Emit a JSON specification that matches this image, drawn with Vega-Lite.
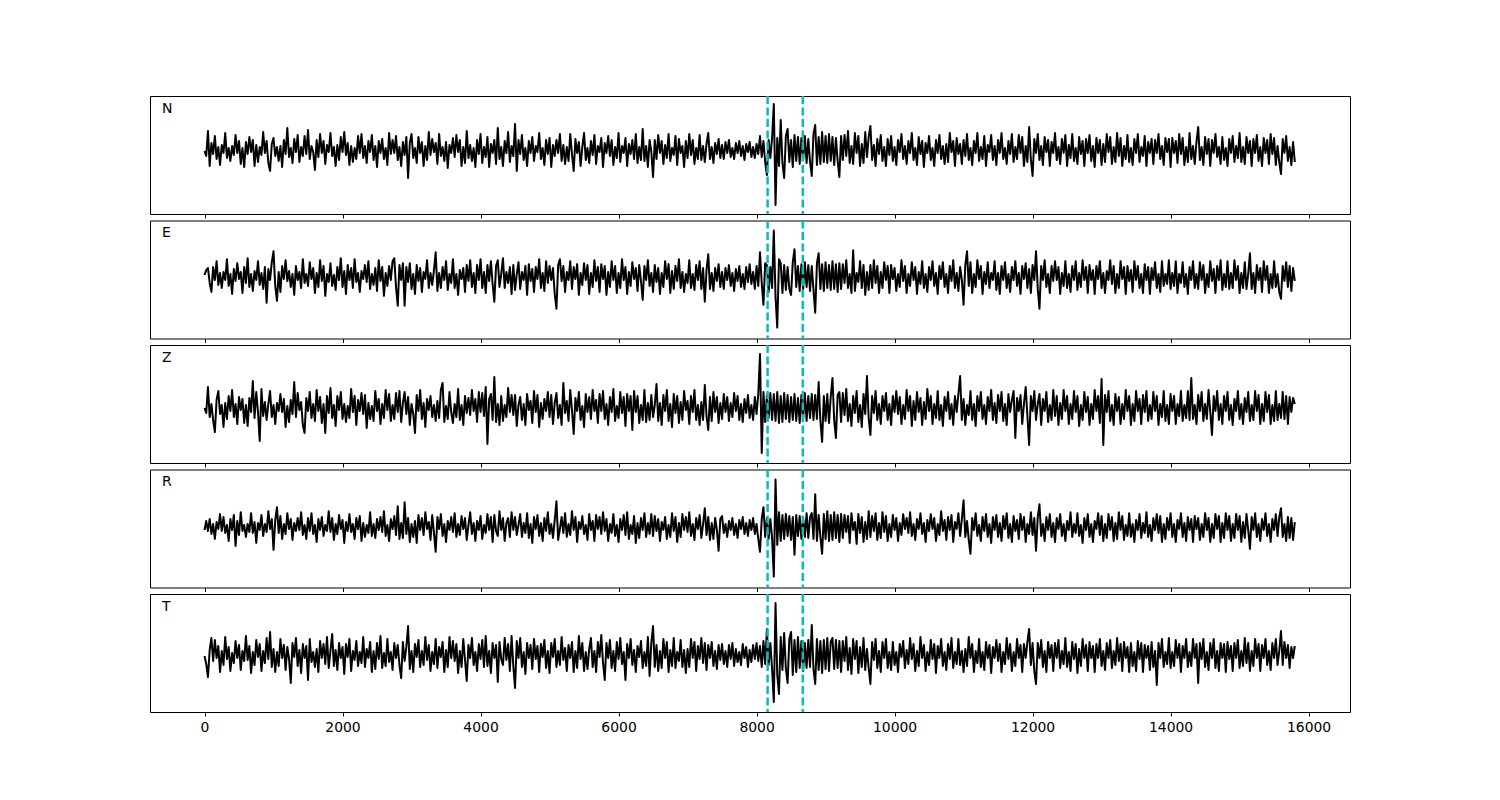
{
"$schema": "https://vega.github.io/schema/vega-lite/v6.json",
"background": "white",
"padding": {"left": 149, "top": 94, "right": 150, "bottom": 10},
"bounds": "flush",
"spacing": 6.5,
"config": {
  "view": {"stroke": "black", "strokeWidth": 1},
  "font": "DejaVu Sans",
  "axis": {"domain": false, "grid": false, "ticks": true, "tickSize": 4, "tickColor": "black", "tickWidth": 1, "labelFont": "DejaVu Sans", "labelFontSize": 13.9, "labelColor": "black", "labelPadding": 4, "title": null}
},
"data": {"values": [
{"t":0,"N":-1,"E":2,"Z":0,"R":-3,"T":-1},
{"t":25,"N":-6,"E":7,"Z":-5,"R":6,"T":-9},
{"t":50,"N":19,"E":9,"Z":21,"R":-4,"T":-22},
{"t":75,"N":-16,"E":-6,"Z":-9,"R":8,"T":5},
{"t":100,"N":7,"E":-15,"Z":4,"R":-7,"T":17},
{"t":125,"N":-4,"E":10,"Z":-12,"R":3,"T":-6},
{"t":150,"N":14,"E":-3,"Z":-24,"R":-12,"T":15},
{"t":175,"N":-9,"E":16,"Z":8,"R":5,"T":-3},
{"t":200,"N":3,"E":-8,"Z":17,"R":-2,"T":9},
{"t":225,"N":-15,"E":4,"Z":-6,"R":13,"T":-17},
{"t":250,"N":5,"E":-11,"Z":3,"R":-4,"T":4},
{"t":275,"N":-3,"E":5,"Z":-19,"R":10,"T":-10},
{"t":300,"N":17,"E":-3,"Z":5,"R":-6,"T":18},
{"t":325,"N":-8,"E":18,"Z":-11,"R":2,"T":-4},
{"t":350,"N":2,"E":-9,"Z":12,"R":-14,"T":8},
{"t":375,"N":-11,"E":3,"Z":-3,"R":8,"T":-16},
{"t":400,"N":4,"E":-17,"Z":18,"R":-3,"T":2},
{"t":425,"N":-5,"E":8,"Z":-9,"R":12,"T":-8},
{"t":450,"N":15,"E":-4,"Z":4,"R":-19,"T":14},
{"t":475,"N":-3,"E":14,"Z":-16,"R":6,"T":-3},
{"t":500,"N":9,"E":-2,"Z":11,"R":-8,"T":10},
{"t":525,"N":-14,"E":5,"Z":-2,"R":15,"T":-15},
{"t":550,"N":2,"E":-16,"Z":9,"R":-4,"T":4},
{"t":575,"N":-17,"E":10,"Z":-15,"R":2,"T":-6},
{"t":600,"N":8,"E":-6,"Z":3,"R":-10,"T":19},
{"t":625,"N":-4,"E":19,"Z":-18,"R":3,"T":-5},
{"t":650,"N":13,"E":-10,"Z":10,"R":-5,"T":9},
{"t":675,"N":-2,"E":3,"Z":-4,"R":14,"T":-18},
{"t":700,"N":10,"E":-14,"Z":27,"R":-6,"T":3},
{"t":725,"N":-16,"E":6,"Z":-10,"R":5,"T":-10},
{"t":750,"N":5,"E":-3,"Z":16,"R":-16,"T":15},
{"t":775,"N":-12,"E":16,"Z":-4,"R":4,"T":-2},
{"t":800,"N":3,"E":-8,"Z":-33,"R":-3,"T":11},
{"t":825,"N":-5,"E":4,"Z":19,"R":12,"T":-16},
{"t":850,"N":18,"E":-12,"Z":-8,"R":-9,"T":4},
{"t":875,"N":-3,"E":10,"Z":6,"R":3,"T":-8},
{"t":900,"N":9,"E":-26,"Z":-12,"R":-5,"T":17},
{"t":925,"N":-13,"E":8,"Z":4,"R":16,"T":-4},
{"t":950,"N":-21,"E":-3,"Z":17,"R":-2,"T":23},
{"t":975,"N":6,"E":15,"Z":-9,"R":8,"T":-12},
{"t":1000,"N":12,"E":26,"Z":3,"R":-23,"T":6},
{"t":1025,"N":-6,"E":-9,"Z":-16,"R":7,"T":-17},
{"t":1050,"N":3,"E":-24,"Z":5,"R":20,"T":3},
{"t":1075,"N":-11,"E":5,"Z":-3,"R":-6,"T":-11},
{"t":1100,"N":4,"E":-15,"Z":14,"R":11,"T":16},
{"t":1125,"N":-17,"E":11,"Z":-4,"R":-12,"T":-3},
{"t":1150,"N":10,"E":-2,"Z":9,"R":3,"T":10},
{"t":1175,"N":-4,"E":17,"Z":-19,"R":-7,"T":-15},
{"t":1200,"N":22,"E":-4,"Z":2,"R":14,"T":8},
{"t":1225,"N":-7,"E":6,"Z":-14,"R":-2,"T":-4},
{"t":1250,"N":2,"E":-10,"Z":8,"R":8,"T":-28},
{"t":1275,"N":-13,"E":3,"Z":-6,"R":-13,"T":12},
{"t":1300,"N":11,"E":-18,"Z":26,"R":4,"T":-2},
{"t":1325,"N":-2,"E":11,"Z":-9,"R":-4,"T":17},
{"t":1350,"N":15,"E":-3,"Z":15,"R":9,"T":-11},
{"t":1375,"N":-12,"E":5,"Z":-2,"R":-3,"T":5},
{"t":1400,"N":3,"E":-11,"Z":6,"R":15,"T":-18},
{"t":1425,"N":-6,"E":18,"Z":-17,"R":-8,"T":11},
{"t":1450,"N":14,"E":-6,"Z":-25,"R":2,"T":-3},
{"t":1475,"N":-4,"E":3,"Z":10,"R":-12,"T":9},
{"t":1500,"N":20,"E":-9,"Z":-3,"R":9,"T":-25},
{"t":1525,"N":-9,"E":15,"Z":16,"R":-4,"T":16},
{"t":1550,"N":4,"E":-2,"Z":-10,"R":14,"T":-7},
{"t":1575,"N":-2,"E":9,"Z":4,"R":-7,"T":3},
{"t":1600,"N":-20,"E":-16,"Z":-13,"R":2,"T":-12},
{"t":1625,"N":10,"E":4,"Z":18,"R":-15,"T":6},
{"t":1650,"N":-7,"E":-10,"Z":-3,"R":8,"T":-17},
{"t":1675,"N":16,"E":17,"Z":11,"R":-3,"T":14},
{"t":1700,"N":-3,"E":-4,"Z":-15,"R":10,"T":-3},
{"t":1725,"N":9,"E":11,"Z":4,"R":-9,"T":11},
{"t":1750,"N":-14,"E":-19,"Z":-25,"R":2,"T":-9},
{"t":1775,"N":5,"E":3,"Z":12,"R":-4,"T":18},
{"t":1800,"N":-2,"E":-5,"Z":-5,"R":16,"T":-13},
{"t":1825,"N":17,"E":14,"Z":20,"R":-5,"T":4},
{"t":1850,"N":-6,"E":-9,"Z":-10,"R":9,"T":21},
{"t":1875,"N":3,"E":2,"Z":3,"R":-13,"T":-11},
{"t":1900,"N":-16,"E":-13,"Z":-18,"R":3,"T":5},
{"t":1925,"N":5,"E":10,"Z":12,"R":-7,"T":-15},
{"t":1950,"N":-10,"E":-3,"Z":-2,"R":12,"T":12},
{"t":1975,"N":13,"E":19,"Z":16,"R":-2,"T":-3},
{"t":2000,"N":-2,"E":-10,"Z":-11,"R":7,"T":8},
{"t":2025,"N":18,"E":6,"Z":4,"R":-16,"T":-19},
{"t":2050,"N":-5,"E":-17,"Z":-14,"R":5,"T":11},
{"t":2075,"N":7,"E":12,"Z":2,"R":-4,"T":-2},
{"t":2100,"N":-15,"E":-3,"Z":-10,"R":13,"T":16},
{"t":2125,"N":4,"E":9,"Z":19,"R":-5,"T":-16},
{"t":2150,"N":-12,"E":-11,"Z":-4,"R":3,"T":4},
{"t":2175,"N":2,"E":18,"Z":12,"R":-12,"T":-5},
{"t":2200,"N":-9,"E":-5,"Z":-17,"R":9,"T":14},
{"t":2225,"N":14,"E":4,"Z":8,"R":-2,"T":-11},
{"t":2250,"N":-3,"E":-15,"Z":-3,"R":11,"T":3},
{"t":2275,"N":16,"E":6,"Z":15,"R":-14,"T":-8},
{"t":2300,"N":-8,"E":-2,"Z":-6,"R":4,"T":18},
{"t":2325,"N":4,"E":12,"Z":13,"R":-10,"T":-12},
{"t":2350,"N":-13,"E":-5,"Z":-20,"R":2,"T":6},
{"t":2375,"N":9,"E":16,"Z":5,"R":-6,"T":-3},
{"t":2400,"N":-2,"E":-12,"Z":-11,"R":15,"T":13},
{"t":2425,"N":15,"E":3,"Z":2,"R":-9,"T":-17},
{"t":2450,"N":-10,"E":-8,"Z":-13,"R":3,"T":4},
{"t":2475,"N":4,"E":9,"Z":17,"R":-11,"T":-14},
{"t":2500,"N":-17,"E":-14,"Z":-3,"R":8,"T":12},
{"t":2525,"N":9,"E":17,"Z":9,"R":-3,"T":-4},
{"t":2550,"N":-3,"E":-4,"Z":-16,"R":10,"T":19},
{"t":2575,"N":11,"E":10,"Z":4,"R":-5,"T":-13},
{"t":2600,"N":-9,"E":-19,"Z":-10,"R":16,"T":2},
{"t":2625,"N":2,"E":4,"Z":18,"R":-9,"T":-11},
{"t":2650,"N":-15,"E":-9,"Z":-2,"R":2,"T":16},
{"t":2675,"N":17,"E":11,"Z":14,"R":-14,"T":-7},
{"t":2700,"N":-4,"E":-3,"Z":-13,"R":8,"T":3},
{"t":2725,"N":10,"E":16,"Z":3,"R":-2,"T":-15},
{"t":2750,"N":-3,"E":19,"Z":-11,"R":11,"T":12},
{"t":2775,"N":14,"E":-10,"Z":15,"R":-8,"T":-3},
{"t":2800,"N":-10,"E":-29,"Z":-4,"R":21,"T":10},
{"t":2825,"N":3,"E":12,"Z":17,"R":-12,"T":-10},
{"t":2850,"N":-16,"E":-3,"Z":-14,"R":4,"T":-23},
{"t":2875,"N":8,"E":14,"Z":5,"R":-11,"T":13},
{"t":2900,"N":-5,"E":-29,"Z":16,"R":25,"T":-6},
{"t":2925,"N":13,"E":10,"Z":-6,"R":-7,"T":8},
{"t":2950,"N":-28,"E":-5,"Z":11,"R":9,"T":29},
{"t":2975,"N":7,"E":14,"Z":-17,"R":-15,"T":-14},
{"t":3000,"N":16,"E":-12,"Z":4,"R":3,"T":4},
{"t":3025,"N":-8,"E":3,"Z":-6,"R":-10,"T":-17},
{"t":3050,"N":2,"E":-17,"Z":-25,"R":6,"T":11},
{"t":3075,"N":-13,"E":12,"Z":13,"R":-16,"T":-2},
{"t":3100,"N":13,"E":-4,"Z":-3,"R":12,"T":15},
{"t":3125,"N":-3,"E":9,"Z":18,"R":-3,"T":-12},
{"t":3150,"N":8,"E":-15,"Z":-11,"R":9,"T":4},
{"t":3175,"N":-16,"E":5,"Z":5,"R":-8,"T":-10},
{"t":3200,"N":4,"E":-2,"Z":-19,"R":15,"T":18},
{"t":3225,"N":-10,"E":17,"Z":9,"R":-2,"T":-5},
{"t":3250,"N":18,"E":-11,"Z":-2,"R":5,"T":10},
{"t":3275,"N":-5,"E":4,"Z":12,"R":-13,"T":-16},
{"t":3300,"N":11,"E":-8,"Z":-9,"R":12,"T":3},
{"t":3325,"N":-2,"E":7,"Z":3,"R":-6,"T":-9},
{"t":3350,"N":7,"E":25,"Z":-13,"R":-25,"T":16},
{"t":3375,"N":-14,"E":-14,"Z":7,"R":10,"T":-13},
{"t":3400,"N":16,"E":4,"Z":-10,"R":-2,"T":8},
{"t":3425,"N":-6,"E":-11,"Z":18,"R":13,"T":-2},
{"t":3450,"N":3,"E":10,"Z":25,"R":-9,"T":13},
{"t":3475,"N":-11,"E":-3,"Z":-14,"R":3,"T":-17},
{"t":3500,"N":8,"E":16,"Z":2,"R":-15,"T":5},
{"t":3525,"N":-18,"E":-13,"Z":-11,"R":6,"T":-12},
{"t":3550,"N":5,"E":3,"Z":16,"R":-3,"T":18},
{"t":3575,"N":-3,"E":-6,"Z":-4,"R":10,"T":-3},
{"t":3600,"N":12,"E":18,"Z":-15,"R":-5,"T":14},
{"t":3625,"N":-7,"E":-11,"Z":4,"R":14,"T":-6},
{"t":3650,"N":15,"E":3,"Z":-9,"R":-10,"T":11},
{"t":3675,"N":-2,"E":-18,"Z":19,"R":3,"T":-18},
{"t":3700,"N":10,"E":7,"Z":-12,"R":-8,"T":4},
{"t":3725,"N":-16,"E":-2,"Z":3,"R":11,"T":-12},
{"t":3750,"N":3,"E":9,"Z":-17,"R":-2,"T":16},
{"t":3775,"N":-13,"E":-15,"Z":12,"R":9,"T":-5},
{"t":3800,"N":19,"E":12,"Z":-5,"R":-13,"T":-26},
{"t":3825,"N":-8,"E":-4,"Z":10,"R":2,"T":10},
{"t":3850,"N":5,"E":17,"Z":-7,"R":15,"T":-3},
{"t":3875,"N":-11,"E":-10,"Z":18,"R":-7,"T":17},
{"t":3900,"N":2,"E":4,"Z":-3,"R":4,"T":-10},
{"t":3925,"N":-17,"E":-16,"Z":9,"R":-14,"T":3},
{"t":3950,"N":10,"E":12,"Z":-14,"R":6,"T":-16},
{"t":3975,"N":-4,"E":-3,"Z":16,"R":-3,"T":11},
{"t":4000,"N":16,"E":18,"Z":-4,"R":11,"T":-4},
{"t":4025,"N":-13,"E":-11,"Z":15,"R":-12,"T":15},
{"t":4050,"N":3,"E":5,"Z":-8,"R":2,"T":-12},
{"t":4075,"N":-7,"E":-16,"Z":21,"R":-6,"T":19},
{"t":4100,"N":13,"E":12,"Z":-36,"R":13,"T":-11},
{"t":4125,"N":-17,"E":-4,"Z":9,"R":-3,"T":4},
{"t":4150,"N":6,"E":16,"Z":14,"R":10,"T":-18},
{"t":4175,"N":-3,"E":-7,"Z":-12,"R":-15,"T":12},
{"t":4200,"N":10,"E":-25,"Z":31,"R":12,"T":-3},
{"t":4225,"N":-14,"E":11,"Z":-14,"R":-4,"T":10},
{"t":4250,"N":22,"E":17,"Z":4,"R":-9,"T":-27},
{"t":4275,"N":-9,"E":-10,"Z":-17,"R":16,"T":13},
{"t":4300,"N":3,"E":3,"Z":12,"R":-3,"T":-4},
{"t":4325,"N":-16,"E":19,"Z":-13,"R":9,"T":-10},
{"t":4350,"N":9,"E":-11,"Z":3,"R":-14,"T":17},
{"t":4375,"N":-3,"E":5,"Z":-9,"R":4,"T":-5},
{"t":4400,"N":18,"E":-6,"Z":20,"R":9,"T":11},
{"t":4425,"N":-12,"E":10,"Z":-4,"R":-10,"T":-16},
{"t":4450,"N":4,"E":-17,"Z":13,"R":15,"T":19},
{"t":4475,"N":-6,"E":12,"Z":-7,"R":-3,"T":-11},
{"t":4500,"N":26,"E":-13,"Z":13,"R":10,"T":-33},
{"t":4525,"N":-21,"E":3,"Z":-18,"R":-8,"T":14},
{"t":4550,"N":10,"E":15,"Z":3,"R":2,"T":-3},
{"t":4575,"N":-4,"E":-12,"Z":11,"R":13,"T":17},
{"t":4600,"N":15,"E":5,"Z":-12,"R":-10,"T":-12},
{"t":4625,"N":-10,"E":-3,"Z":4,"R":4,"T":3},
{"t":4650,"N":2,"E":11,"Z":-17,"R":-6,"T":-19},
{"t":4675,"N":-16,"E":-18,"Z":14,"R":14,"T":12},
{"t":4700,"N":9,"E":13,"Z":-2,"R":-11,"T":-3},
{"t":4725,"N":-3,"E":-4,"Z":7,"R":3,"T":10},
{"t":4750,"N":13,"E":8,"Z":-15,"R":-16,"T":-14},
{"t":4775,"N":-11,"E":-15,"Z":17,"R":10,"T":16},
{"t":4800,"N":4,"E":10,"Z":-4,"R":-2,"T":-4},
{"t":4825,"N":-2,"E":-2,"Z":13,"R":12,"T":9},
{"t":4850,"N":17,"E":18,"Z":-19,"R":-9,"T":-17},
{"t":4875,"N":-9,"E":-11,"Z":5,"R":4,"T":11},
{"t":4900,"N":2,"E":4,"Z":-11,"R":-14,"T":-2},
{"t":4925,"N":-15,"E":-14,"Z":9,"R":9,"T":15},
{"t":4950,"N":10,"E":16,"Z":-3,"R":-4,"T":-13},
{"t":4975,"N":-4,"E":-6,"Z":16,"R":15,"T":4},
{"t":5000,"N":12,"E":11,"Z":-9,"R":-7,"T":-18},
{"t":5025,"N":-17,"E":-3,"Z":13,"R":3,"T":12},
{"t":5050,"N":5,"E":9,"Z":-16,"R":-11,"T":-2},
{"t":5075,"N":-6,"E":-17,"Z":5,"R":7,"T":16},
{"t":5100,"N":10,"E":-32,"Z":15,"R":26,"T":-12},
{"t":5125,"N":-3,"E":12,"Z":-10,"R":-13,"T":4},
{"t":5150,"N":16,"E":18,"Z":3,"R":-2,"T":-10},
{"t":5175,"N":-11,"E":-4,"Z":-17,"R":10,"T":18},
{"t":5200,"N":5,"E":11,"Z":25,"R":-6,"T":-5},
{"t":5225,"N":-14,"E":-15,"Z":-5,"R":14,"T":7},
{"t":5250,"N":3,"E":5,"Z":7,"R":-10,"T":-16},
{"t":5275,"N":-11,"E":-3,"Z":-13,"R":3,"T":10},
{"t":5300,"N":16,"E":16,"Z":18,"R":-8,"T":-3},
{"t":5325,"N":-4,"E":-12,"Z":-2,"R":16,"T":13},
{"t":5350,"N":-21,"E":10,"Z":-26,"R":-3,"T":-17},
{"t":5375,"N":11,"E":-2,"Z":10,"R":10,"T":4},
{"t":5400,"N":-3,"E":13,"Z":-3,"R":-15,"T":-13},
{"t":5425,"N":8,"E":-18,"Z":16,"R":5,"T":19},
{"t":5450,"N":-16,"E":4,"Z":-12,"R":-2,"T":-4},
{"t":5475,"N":3,"E":-8,"Z":2,"R":11,"T":12},
{"t":5500,"N":17,"E":14,"Z":-19,"R":-7,"T":-16},
{"t":5525,"N":-10,"E":-3,"Z":14,"R":2,"T":3},
{"t":5550,"N":2,"E":12,"Z":-4,"R":-13,"T":-14},
{"t":5575,"N":-13,"E":-17,"Z":11,"R":13,"T":6},
{"t":5600,"N":9,"E":4,"Z":-11,"R":-3,"T":17},
{"t":5625,"N":-5,"E":-10,"Z":18,"R":6,"T":-12},
{"t":5650,"N":15,"E":17,"Z":-3,"R":-14,"T":4},
{"t":5675,"N":-14,"E":-4,"Z":8,"R":12,"T":-17},
{"t":5700,"N":4,"E":10,"Z":-15,"R":-2,"T":13},
{"t":5725,"N":-2,"E":-15,"Z":14,"R":10,"T":-2},
{"t":5750,"N":12,"E":13,"Z":-3,"R":-7,"T":20},
{"t":5775,"N":-17,"E":-2,"Z":17,"R":15,"T":-8},
{"t":5800,"N":7,"E":11,"Z":-11,"R":-4,"T":-25},
{"t":5825,"N":-3,"E":-18,"Z":4,"R":8,"T":12},
{"t":5850,"N":14,"E":5,"Z":-17,"R":-14,"T":-3},
{"t":5875,"N":-6,"E":-10,"Z":11,"R":3,"T":15},
{"t":5900,"N":10,"E":16,"Z":-4,"R":-6,"T":-13},
{"t":5925,"N":-15,"E":-3,"Z":19,"R":13,"T":4},
{"t":5950,"N":3,"E":11,"Z":-13,"R":-9,"T":-16},
{"t":5975,"N":-8,"E":-16,"Z":2,"R":2,"T":13},
{"t":6000,"N":17,"E":4,"Z":-10,"R":-15,"T":-4},
{"t":6025,"N":-12,"E":-11,"Z":16,"R":8,"T":17},
{"t":6050,"N":4,"E":18,"Z":-5,"R":-3,"T":-9},
{"t":6075,"N":-3,"E":-3,"Z":11,"R":12,"T":3},
{"t":6100,"N":12,"E":10,"Z":-18,"R":-8,"T":-25},
{"t":6125,"N":-16,"E":-17,"Z":14,"R":15,"T":11},
{"t":6150,"N":6,"E":5,"Z":-3,"R":-12,"T":-3},
{"t":6175,"N":-4,"E":-9,"Z":12,"R":2,"T":16},
{"t":6200,"N":10,"E":15,"Z":-22,"R":-7,"T":-10},
{"t":6225,"N":-9,"E":-2,"Z":17,"R":11,"T":5},
{"t":6250,"N":16,"E":9,"Z":-4,"R":-16,"T":-17},
{"t":6275,"N":-13,"E":-14,"Z":12,"R":4,"T":9},
{"t":6300,"N":3,"E":12,"Z":-15,"R":-11,"T":-2},
{"t":6325,"N":-10,"E":-4,"Z":3,"R":9,"T":14},
{"t":6350,"N":21,"E":-23,"Z":-12,"R":-3,"T":-13},
{"t":6375,"N":-11,"E":11,"Z":18,"R":14,"T":3},
{"t":6400,"N":4,"E":-3,"Z":-14,"R":-10,"T":-11},
{"t":6425,"N":-17,"E":17,"Z":5,"R":4,"T":18},
{"t":6450,"N":10,"E":-9,"Z":-12,"R":-7,"T":-21},
{"t":6475,"N":-2,"E":4,"Z":13,"R":13,"T":12},
{"t":6500,"N":-27,"E":-15,"Z":-9,"R":-9,"T":29},
{"t":6525,"N":10,"E":12,"Z":3,"R":11,"T":-12},
{"t":6550,"N":-9,"E":-5,"Z":24,"R":-4,"T":10},
{"t":6575,"N":15,"E":9,"Z":-13,"R":8,"T":-16},
{"t":6600,"N":-3,"E":-17,"Z":5,"R":-14,"T":4},
{"t":6625,"N":9,"E":4,"Z":-17,"R":5,"T":-13},
{"t":6650,"N":-14,"E":-10,"Z":13,"R":-3,"T":16},
{"t":6675,"N":5,"E":16,"Z":-3,"R":10,"T":-3},
{"t":6700,"N":-8,"E":-2,"Z":18,"R":-12,"T":13},
{"t":6725,"N":16,"E":13,"Z":-13,"R":2,"T":-17},
{"t":6750,"N":-11,"E":-16,"Z":4,"R":-10,"T":5},
{"t":6775,"N":2,"E":6,"Z":-19,"R":14,"T":-11},
{"t":6800,"N":-5,"E":-12,"Z":14,"R":-4,"T":17},
{"t":6825,"N":14,"E":11,"Z":-5,"R":10,"T":-13},
{"t":6850,"N":-15,"E":-4,"Z":12,"R":-15,"T":3},
{"t":6875,"N":11,"E":18,"Z":-15,"R":4,"T":-6},
{"t":6900,"N":-3,"E":-11,"Z":6,"R":-10,"T":15},
{"t":6925,"N":4,"E":5,"Z":-12,"R":13,"T":-12},
{"t":6950,"N":-17,"E":-15,"Z":17,"R":-3,"T":5},
{"t":6975,"N":9,"E":3,"Z":-2,"R":10,"T":-18},
{"t":7000,"N":-8,"E":-6,"Z":7,"R":-5,"T":6},
{"t":7025,"N":16,"E":17,"Z":-16,"R":15,"T":-12},
{"t":7050,"N":-5,"E":-11,"Z":12,"R":-9,"T":16},
{"t":7075,"N":10,"E":3,"Z":-4,"R":3,"T":-3},
{"t":7100,"N":-14,"E":-13,"Z":18,"R":-13,"T":13},
{"t":7125,"N":2,"E":12,"Z":-12,"R":9,"T":-16},
{"t":7150,"N":-9,"E":-3,"Z":3,"R":-2,"T":9},
{"t":7175,"N":15,"E":16,"Z":-17,"R":12,"T":-4},
{"t":7200,"N":-10,"E":-12,"Z":6,"R":-11,"T":17},
{"t":7225,"N":4,"E":9,"Z":-12,"R":3,"T":-8},
{"t":7250,"N":-12,"E":-25,"Z":23,"R":19,"T":12},
{"t":7275,"N":6,"E":7,"Z":-8,"R":-8,"T":-15},
{"t":7300,"N":17,"E":23,"Z":-22,"R":10,"T":10},
{"t":7325,"N":-9,"E":-12,"Z":11,"R":-13,"T":-3},
{"t":7350,"N":3,"E":4,"Z":-13,"R":4,"T":13},
{"t":7375,"N":-13,"E":-14,"Z":16,"R":-12,"T":-11},
{"t":7400,"N":7,"E":9,"Z":-4,"R":9,"T":4},
{"t":7425,"N":-4,"E":-4,"Z":11,"R":-3,"T":-14},
{"t":7450,"N":11,"E":13,"Z":-15,"R":-24,"T":10},
{"t":7475,"N":-8,"E":-10,"Z":5,"R":8,"T":-5},
{"t":7500,"N":5,"E":5,"Z":-11,"R":11,"T":11},
{"t":7525,"N":-9,"E":-12,"Z":14,"R":-6,"T":-9},
{"t":7550,"N":8,"E":9,"Z":-4,"R":3,"T":4},
{"t":7575,"N":-3,"E":-3,"Z":11,"R":-10,"T":-12},
{"t":7600,"N":10,"E":12,"Z":-13,"R":6,"T":10},
{"t":7625,"N":-7,"E":-9,"Z":5,"R":-3,"T":-4},
{"t":7650,"N":2,"E":4,"Z":-9,"R":9,"T":12},
{"t":7675,"N":-9,"E":-14,"Z":15,"R":-8,"T":-11},
{"t":7700,"N":7,"E":8,"Z":-3,"R":3,"T":6},
{"t":7725,"N":-3,"E":-4,"Z":12,"R":-11,"T":-7},
{"t":7750,"N":9,"E":11,"Z":-12,"R":7,"T":3},
{"t":7775,"N":-6,"E":-10,"Z":4,"R":-2,"T":-10},
{"t":7800,"N":4,"E":3,"Z":-14,"R":10,"T":11},
{"t":7825,"N":-10,"E":-12,"Z":9,"R":-7,"T":-3},
{"t":7850,"N":6,"E":10,"Z":-5,"R":4,"T":8},
{"t":7875,"N":-2,"E":-5,"Z":13,"R":-9,"T":-12},
{"t":7900,"N":8,"E":13,"Z":-10,"R":7,"T":5},
{"t":7925,"N":-7,"E":-7,"Z":3,"R":-3,"T":-7},
{"t":7950,"N":3,"E":5,"Z":-12,"R":9,"T":10},
{"t":7975,"N":-8,"E":-12,"Z":11,"R":-7,"T":-4},
{"t":8000,"N":6,"E":11,"Z":-6,"R":3,"T":12},
{"t":8025,"N":-4,"E":-9,"Z":14,"R":-12,"T":-6},
{"t":8050,"N":14,"E":25,"Z":54,"R":-25,"T":9},
{"t":8075,"N":-7,"E":-6,"Z":-45,"R":8,"T":-12},
{"t":8100,"N":9,"E":-28,"Z":16,"R":20,"T":14},
{"t":8125,"N":-12,"E":14,"Z":-14,"R":-10,"T":-9},
{"t":8150,"N":-25,"E":12,"Z":13,"R":9,"T":26},
{"t":8175,"N":10,"E":-15,"Z":-10,"R":-12,"T":-10},
{"t":8200,"N":-8,"E":10,"Z":15,"R":8,"T":12},
{"t":8225,"N":12,"E":-11,"Z":-12,"R":-11,"T":-14},
{"t":8250,"N":46,"E":47,"Z":14,"R":-50,"T":-47},
{"t":8275,"N":-55,"E":-20,"Z":-13,"R":48,"T":52},
{"t":8300,"N":12,"E":-51,"Z":16,"R":-18,"T":-20},
{"t":8325,"N":-16,"E":18,"Z":-15,"R":15,"T":-39},
{"t":8350,"N":30,"E":14,"Z":12,"R":-14,"T":18},
{"t":8375,"N":-13,"E":-16,"Z":-14,"R":12,"T":-15},
{"t":8400,"N":-28,"E":12,"Z":15,"R":-12,"T":22},
{"t":8425,"N":14,"E":-13,"Z":-11,"R":13,"T":-14},
{"t":8450,"N":21,"E":10,"Z":13,"R":-9,"T":-28},
{"t":8475,"N":-12,"E":-12,"Z":-14,"R":11,"T":16},
{"t":8500,"N":10,"E":-18,"Z":11,"R":-13,"T":23},
{"t":8525,"N":-17,"E":15,"Z":-12,"R":10,"T":-20},
{"t":8550,"N":15,"E":28,"Z":14,"R":-28,"T":15},
{"t":8575,"N":-11,"E":-10,"Z":-13,"R":12,"T":-17},
{"t":8600,"N":13,"E":11,"Z":10,"R":-9,"T":18},
{"t":8625,"N":-14,"E":-14,"Z":-15,"R":11,"T":-13},
{"t":8650,"N":12,"E":13,"Z":13,"R":-12,"T":14},
{"t":8675,"N":-10,"E":-12,"Z":-11,"R":9,"T":-16},
{"t":8700,"N":14,"E":15,"Z":15,"R":-10,"T":12},
{"t":8725,"N":-13,"E":-10,"Z":-13,"R":14,"T":-13},
{"t":8750,"N":11,"E":12,"Z":12,"R":-11,"T":15},
{"t":8775,"N":-12,"E":-14,"Z":-10,"R":10,"T":-12},
{"t":8800,"N":-26,"E":11,"Z":14,"R":14,"T":30},
{"t":8825,"N":16,"E":-13,"Z":-12,"R":-12,"T":-14},
{"t":8850,"N":25,"E":-36,"Z":13,"R":33,"T":-29},
{"t":8875,"N":-15,"E":14,"Z":-11,"R":-14,"T":16},
{"t":8900,"N":13,"E":24,"Z":26,"R":12,"T":-15},
{"t":8925,"N":-14,"E":-12,"Z":-13,"R":-10,"T":14},
{"t":8950,"N":18,"E":13,"Z":-34,"R":-27,"T":-18},
{"t":8975,"N":-12,"E":-14,"Z":12,"R":13,"T":15},
{"t":9000,"N":14,"E":15,"Z":-13,"R":-12,"T":-14},
{"t":9025,"N":-13,"E":-11,"Z":14,"R":16,"T":17},
{"t":9050,"N":16,"E":12,"Z":-15,"R":-14,"T":-16},
{"t":9075,"N":-11,"E":-13,"Z":11,"R":12,"T":13},
{"t":9100,"N":13,"E":16,"Z":30,"R":-13,"T":17},
{"t":9125,"N":-15,"E":-12,"Z":-12,"R":15,"T":-14},
{"t":9150,"N":12,"E":13,"Z":-30,"R":-11,"T":15},
{"t":9175,"N":-11,"E":-15,"Z":13,"R":12,"T":-13},
{"t":9200,"N":-27,"E":14,"Z":16,"R":-15,"T":14},
{"t":9225,"N":14,"E":-12,"Z":-14,"R":13,"T":-17},
{"t":9250,"N":-10,"E":13,"Z":15,"R":-11,"T":14},
{"t":9275,"N":15,"E":-6,"Z":-7,"R":12,"T":-6},
{"t":9300,"N":-6,"E":17,"Z":19,"R":-5,"T":18},
{"t":9325,"N":19,"E":-11,"Z":-13,"R":11,"T":-15},
{"t":9350,"N":-13,"E":3,"Z":4,"R":-16,"T":7},
{"t":9375,"N":4,"E":-16,"Z":-18,"R":14,"T":-19},
{"t":9400,"N":-14,"E":27,"Z":12,"R":-3,"T":16},
{"t":9425,"N":17,"E":-14,"Z":-5,"R":5,"T":-4},
{"t":9450,"N":-3,"E":4,"Z":17,"R":-17,"T":14},
{"t":9475,"N":14,"E":-5,"Z":-14,"R":13,"T":-18},
{"t":9500,"N":-16,"E":16,"Z":3,"R":-6,"T":8},
{"t":9525,"N":6,"E":-11,"Z":-19,"R":10,"T":-12},
{"t":9550,"N":-13,"E":12,"Z":14,"R":-15,"T":17},
{"t":9575,"N":18,"E":-18,"Z":-6,"R":5,"T":-15},
{"t":9600,"N":-7,"E":5,"Z":32,"R":-12,"T":6},
{"t":9625,"N":13,"E":-13,"Z":-10,"R":16,"T":-13},
{"t":9650,"N":24,"E":12,"Z":-27,"R":-10,"T":-29},
{"t":9675,"N":-10,"E":-11,"Z":12,"R":11,"T":13},
{"t":9700,"N":5,"E":17,"Z":-5,"R":-4,"T":-5},
{"t":9725,"N":-16,"E":-6,"Z":17,"R":14,"T":16},
{"t":9750,"N":11,"E":11,"Z":-12,"R":-13,"T":-13},
{"t":9775,"N":-4,"E":-16,"Z":4,"R":4,"T":4},
{"t":9800,"N":15,"E":5,"Z":-16,"R":-11,"T":-17},
{"t":9825,"N":-11,"E":-11,"Z":12,"R":15,"T":13},
{"t":9850,"N":3,"E":15,"Z":-3,"R":-5,"T":-3},
{"t":9875,"N":-16,"E":-3,"Z":15,"R":11,"T":16},
{"t":9900,"N":11,"E":11,"Z":-12,"R":-14,"T":-13},
{"t":9925,"N":-5,"E":-16,"Z":4,"R":3,"T":3},
{"t":9950,"N":14,"E":12,"Z":-17,"R":-10,"T":-15},
{"t":9975,"N":-11,"E":-2,"Z":12,"R":12,"T":13},
{"t":10000,"N":3,"E":9,"Z":-4,"R":-3,"T":-10},
{"t":10025,"N":-15,"E":-14,"Z":17,"R":9,"T":3},
{"t":10050,"N":10,"E":3,"Z":-6,"R":-14,"T":-17},
{"t":10075,"N":-2,"E":-10,"Z":11,"R":4,"T":11},
{"t":10100,"N":16,"E":17,"Z":-16,"R":-8,"T":-2},
{"t":10125,"N":-9,"E":-4,"Z":3,"R":13,"T":14},
{"t":10150,"N":4,"E":11,"Z":-11,"R":-2,"T":-13},
{"t":10175,"N":-14,"E":-16,"Z":18,"R":9,"T":5},
{"t":10200,"N":9,"E":3,"Z":-3,"R":-6,"T":-9},
{"t":10225,"N":-3,"E":-9,"Z":12,"R":15,"T":17},
{"t":10250,"N":17,"E":15,"Z":-18,"R":-9,"T":-4},
{"t":10275,"N":-10,"E":-3,"Z":7,"R":3,"T":11},
{"t":10300,"N":2,"E":10,"Z":-12,"R":-13,"T":-16},
{"t":10325,"N":-15,"E":-17,"Z":16,"R":8,"T":4},
{"t":10350,"N":13,"E":5,"Z":-4,"R":-2,"T":-11},
{"t":10375,"N":-4,"E":-7,"Z":10,"R":14,"T":18},
{"t":10400,"N":9,"E":16,"Z":-17,"R":-7,"T":-3},
{"t":10425,"N":-17,"E":-11,"Z":6,"R":4,"T":10},
{"t":10450,"N":7,"E":3,"Z":-11,"R":-15,"T":-16},
{"t":10475,"N":-3,"E":-15,"Z":19,"R":7,"T":3},
{"t":10500,"N":14,"E":10,"Z":-3,"R":-4,"T":-10},
{"t":10525,"N":-10,"E":-3,"Z":12,"R":13,"T":15},
{"t":10550,"N":2,"E":16,"Z":-16,"R":-2,"T":-4},
{"t":10575,"N":-16,"E":-9,"Z":4,"R":9,"T":11},
{"t":10600,"N":10,"E":4,"Z":-10,"R":-14,"T":-18},
{"t":10625,"N":-3,"E":-17,"Z":17,"R":3,"T":9},
{"t":10650,"N":15,"E":11,"Z":-12,"R":-8,"T":-3},
{"t":10675,"N":-9,"E":-2,"Z":3,"R":16,"T":16},
{"t":10700,"N":4,"E":15,"Z":-18,"R":-4,"T":-11},
{"t":10725,"N":-14,"E":-10,"Z":11,"R":7,"T":3},
{"t":10750,"N":6,"E":3,"Z":-3,"R":-13,"T":-15},
{"t":10775,"N":-12,"E":-16,"Z":16,"R":10,"T":11},
{"t":10800,"N":17,"E":11,"Z":-11,"R":-3,"T":-4},
{"t":10825,"N":-2,"E":-4,"Z":4,"R":12,"T":17},
{"t":10850,"N":9,"E":17,"Z":-17,"R":-15,"T":-13},
{"t":10875,"N":-16,"E":-11,"Z":12,"R":5,"T":3},
{"t":10900,"N":12,"E":4,"Z":-4,"R":-2,"T":-9},
{"t":10925,"N":-4,"E":-14,"Z":14,"R":14,"T":16},
{"t":10950,"N":6,"E":10,"Z":32,"R":-9,"T":-10},
{"t":10975,"N":-14,"E":-3,"Z":-12,"R":8,"T":4},
{"t":11000,"N":10,"E":-28,"Z":9,"R":27,"T":-17},
{"t":11025,"N":-6,"E":12,"Z":-17,"R":-10,"T":6},
{"t":11050,"N":16,"E":26,"Z":3,"R":6,"T":-11},
{"t":11075,"N":-10,"E":-9,"Z":-7,"R":-13,"T":18},
{"t":11100,"N":2,"E":15,"Z":17,"R":-27,"T":-3},
{"t":11125,"N":-15,"E":-16,"Z":-12,"R":9,"T":11},
{"t":11150,"N":9,"E":3,"Z":4,"R":-3,"T":-17},
{"t":11175,"N":-3,"E":-10,"Z":-18,"R":14,"T":4},
{"t":11200,"N":17,"E":17,"Z":12,"R":-9,"T":-8},
{"t":11225,"N":-11,"E":-2,"Z":-3,"R":2,"T":16},
{"t":11250,"N":3,"E":11,"Z":16,"R":-14,"T":-12},
{"t":11275,"N":-9,"E":-17,"Z":-11,"R":10,"T":3},
{"t":11300,"N":14,"E":5,"Z":3,"R":-4,"T":-15},
{"t":11325,"N":-16,"E":-7,"Z":-16,"R":13,"T":13},
{"t":11350,"N":5,"E":15,"Z":11,"R":-10,"T":-3},
{"t":11375,"N":-2,"E":-11,"Z":-3,"R":3,"T":10},
{"t":11400,"N":15,"E":4,"Z":18,"R":-16,"T":-18},
{"t":11425,"N":-10,"E":-3,"Z":-12,"R":10,"T":8},
{"t":11450,"N":4,"E":16,"Z":5,"R":-3,"T":-3},
{"t":11475,"N":-15,"E":-13,"Z":-15,"R":12,"T":15},
{"t":11500,"N":10,"E":4,"Z":13,"R":-10,"T":-6},
{"t":11525,"N":-3,"E":-17,"Z":-3,"R":4,"T":11},
{"t":11550,"N":17,"E":11,"Z":16,"R":-14,"T":-17},
{"t":11575,"N":-9,"E":-3,"Z":-13,"R":11,"T":3},
{"t":11600,"N":2,"E":15,"Z":4,"R":-2,"T":-9},
{"t":11625,"N":-14,"E":-11,"Z":-17,"R":14,"T":17},
{"t":11650,"N":9,"E":3,"Z":14,"R":-11,"T":-4},
{"t":11675,"N":-4,"E":-15,"Z":-4,"R":3,"T":11},
{"t":11700,"N":16,"E":10,"Z":8,"R":-15,"T":-16},
{"t":11725,"N":-12,"E":-3,"Z":17,"R":11,"T":3},
{"t":11750,"N":3,"E":16,"Z":-30,"R":-4,"T":-11},
{"t":11775,"N":-9,"E":-9,"Z":10,"R":7,"T":16},
{"t":11800,"N":15,"E":4,"Z":-3,"R":-12,"T":-3},
{"t":11825,"N":-3,"E":-17,"Z":13,"R":13,"T":10},
{"t":11850,"N":13,"E":11,"Z":-16,"R":-3,"T":-17},
{"t":11875,"N":-16,"E":-2,"Z":4,"R":10,"T":11},
{"t":11900,"N":4,"E":14,"Z":21,"R":-15,"T":-3},
{"t":11925,"N":-12,"E":-11,"Z":-8,"R":3,"T":13},
{"t":11950,"N":23,"E":8,"Z":-37,"R":-7,"T":26},
{"t":11975,"N":-9,"E":-16,"Z":12,"R":15,"T":-10},
{"t":12000,"N":-26,"E":12,"Z":-3,"R":-8,"T":12},
{"t":12025,"N":11,"E":-3,"Z":17,"R":9,"T":-16},
{"t":12050,"N":-3,"E":26,"Z":-12,"R":-24,"T":-29},
{"t":12075,"N":16,"E":-12,"Z":4,"R":10,"T":12},
{"t":12100,"N":-10,"E":-32,"Z":14,"R":23,"T":-3},
{"t":12125,"N":4,"E":11,"Z":-17,"R":-9,"T":15},
{"t":12150,"N":-15,"E":-3,"Z":9,"R":3,"T":-12},
{"t":12175,"N":13,"E":17,"Z":-3,"R":-14,"T":4},
{"t":12200,"N":-2,"E":-10,"Z":16,"R":10,"T":-17},
{"t":12225,"N":10,"E":3,"Z":-14,"R":-3,"T":13},
{"t":12250,"N":-16,"E":-16,"Z":3,"R":13,"T":-3},
{"t":12275,"N":8,"E":11,"Z":-12,"R":-10,"T":10},
{"t":12300,"N":-3,"E":-4,"Z":18,"R":4,"T":-16},
{"t":12325,"N":17,"E":16,"Z":-8,"R":-15,"T":12},
{"t":12350,"N":-10,"E":-3,"Z":12,"R":9,"T":-3},
{"t":12375,"N":3,"E":10,"Z":-17,"R":-2,"T":15},
{"t":12400,"N":-14,"E":-17,"Z":5,"R":13,"T":-13},
{"t":12425,"N":11,"E":4,"Z":-11,"R":-9,"T":4},
{"t":12450,"N":-3,"E":-9,"Z":18,"R":3,"T":-9},
{"t":12475,"N":15,"E":16,"Z":-3,"R":-14,"T":17},
{"t":12500,"N":-16,"E":-11,"Z":12,"R":6,"T":-12},
{"t":12525,"N":5,"E":3,"Z":-16,"R":-3,"T":3},
{"t":12550,"N":-8,"E":-15,"Z":4,"R":15,"T":-16},
{"t":12575,"N":16,"E":11,"Z":-11,"R":-10,"T":13},
{"t":12600,"N":-11,"E":-3,"Z":17,"R":3,"T":-4},
{"t":12625,"N":2,"E":16,"Z":-4,"R":-6,"T":11},
{"t":12650,"N":-14,"E":-13,"Z":12,"R":14,"T":-18},
{"t":12675,"N":13,"E":4,"Z":-18,"R":-9,"T":6},
{"t":12700,"N":-4,"E":-10,"Z":3,"R":2,"T":-11},
{"t":12725,"N":9,"E":17,"Z":-12,"R":-16,"T":16},
{"t":12750,"N":-16,"E":-3,"Z":16,"R":9,"T":-3},
{"t":12775,"N":11,"E":10,"Z":-4,"R":-3,"T":10},
{"t":12800,"N":-3,"E":-16,"Z":11,"R":13,"T":-16},
{"t":12825,"N":15,"E":12,"Z":-17,"R":-10,"T":13},
{"t":12850,"N":-11,"E":-3,"Z":4,"R":3,"T":-3},
{"t":12875,"N":4,"E":7,"Z":-11,"R":-15,"T":9},
{"t":12900,"N":-17,"E":-17,"Z":18,"R":6,"T":-17},
{"t":12925,"N":12,"E":11,"Z":-3,"R":-2,"T":11},
{"t":12950,"N":-3,"E":-2,"Z":12,"R":14,"T":-3},
{"t":12975,"N":10,"E":16,"Z":-15,"R":-8,"T":16},
{"t":13000,"N":-15,"E":-11,"Z":29,"R":11,"T":-11},
{"t":13025,"N":6,"E":4,"Z":-37,"R":-14,"T":4},
{"t":13050,"N":-12,"E":-16,"Z":13,"R":3,"T":-15},
{"t":13075,"N":16,"E":6,"Z":-4,"R":-11,"T":12},
{"t":13100,"N":-2,"E":-3,"Z":17,"R":13,"T":-3},
{"t":13125,"N":13,"E":17,"Z":-13,"R":-3,"T":15},
{"t":13150,"N":-14,"E":-7,"Z":3,"R":10,"T":-13},
{"t":13175,"N":3,"E":11,"Z":-17,"R":-14,"T":4},
{"t":13200,"N":-12,"E":-16,"Z":14,"R":4,"T":-10},
{"t":13225,"N":17,"E":3,"Z":-3,"R":-12,"T":17},
{"t":13250,"N":-6,"E":-11,"Z":11,"R":15,"T":-6},
{"t":13275,"N":12,"E":16,"Z":-16,"R":-3,"T":11},
{"t":13300,"N":-16,"E":-2,"Z":4,"R":11,"T":-16},
{"t":13325,"N":4,"E":10,"Z":-11,"R":-13,"T":13},
{"t":13350,"N":-9,"E":-17,"Z":18,"R":2,"T":-3},
{"t":13375,"N":15,"E":11,"Z":-3,"R":-9,"T":8},
{"t":13400,"N":-12,"E":-4,"Z":12,"R":14,"T":-17},
{"t":13425,"N":2,"E":7,"Z":-17,"R":-10,"T":12},
{"t":13450,"N":-15,"E":-15,"Z":4,"R":3,"T":-11},
{"t":13475,"N":11,"E":16,"Z":-13,"R":-15,"T":3},
{"t":13500,"N":-3,"E":-3,"Z":17,"R":7,"T":-16},
{"t":13525,"N":16,"E":11,"Z":-3,"R":-3,"T":14},
{"t":13550,"N":-12,"E":-11,"Z":9,"R":13,"T":-4},
{"t":13575,"N":3,"E":3,"Z":-16,"R":-11,"T":12},
{"t":13600,"N":-6,"E":-16,"Z":13,"R":4,"T":-17},
{"t":13625,"N":14,"E":13,"Z":-4,"R":-6,"T":10},
{"t":13650,"N":-16,"E":-3,"Z":17,"R":15,"T":-3},
{"t":13675,"N":8,"E":10,"Z":-13,"R":-10,"T":9},
{"t":13700,"N":-3,"E":-17,"Z":3,"R":2,"T":-15},
{"t":13725,"N":11,"E":9,"Z":-11,"R":-14,"T":13},
{"t":13750,"N":-14,"E":-3,"Z":16,"R":9,"T":-12},
{"t":13775,"N":10,"E":15,"Z":-3,"R":-3,"T":4},
{"t":13800,"N":-3,"E":-11,"Z":12,"R":13,"T":-30},
{"t":13825,"N":16,"E":3,"Z":-17,"R":-6,"T":12},
{"t":13850,"N":-9,"E":-15,"Z":4,"R":11,"T":-3},
{"t":13875,"N":4,"E":16,"Z":-9,"R":-15,"T":16},
{"t":13900,"N":-15,"E":-9,"Z":17,"R":3,"T":-12},
{"t":13925,"N":12,"E":3,"Z":-13,"R":-12,"T":3},
{"t":13950,"N":-2,"E":-7,"Z":3,"R":9,"T":-9},
{"t":13975,"N":11,"E":17,"Z":-16,"R":-3,"T":17},
{"t":14000,"N":-17,"E":-12,"Z":14,"R":14,"T":-13},
{"t":14025,"N":12,"E":4,"Z":-3,"R":-10,"T":3},
{"t":14050,"N":-3,"E":-9,"Z":12,"R":3,"T":-11},
{"t":14075,"N":9,"E":16,"Z":-16,"R":-15,"T":15},
{"t":14100,"N":-13,"E":-16,"Z":4,"R":7,"T":-3},
{"t":14125,"N":16,"E":3,"Z":-8,"R":-2,"T":11},
{"t":14150,"N":-4,"E":-6,"Z":17,"R":14,"T":-17},
{"t":14175,"N":12,"E":15,"Z":-13,"R":-10,"T":9},
{"t":14200,"N":-15,"E":-10,"Z":3,"R":4,"T":-3},
{"t":14225,"N":3,"E":3,"Z":-10,"R":-14,"T":16},
{"t":14250,"N":-12,"E":-17,"Z":17,"R":10,"T":-12},
{"t":14275,"N":17,"E":10,"Z":-12,"R":-3,"T":3},
{"t":14300,"N":-9,"E":-3,"Z":30,"R":8,"T":-11},
{"t":14325,"N":4,"E":16,"Z":-11,"R":-15,"T":16},
{"t":14350,"N":-14,"E":-11,"Z":3,"R":11,"T":-3},
{"t":14375,"N":8,"E":3,"Z":-16,"R":-2,"T":11},
{"t":14400,"N":23,"E":-12,"Z":13,"R":9,"T":-28},
{"t":14425,"N":-10,"E":15,"Z":-3,"R":-13,"T":12},
{"t":14450,"N":3,"E":-3,"Z":16,"R":3,"T":-4},
{"t":14475,"N":-15,"E":12,"Z":-13,"R":-10,"T":16},
{"t":14500,"N":13,"E":-16,"Z":4,"R":14,"T":-12},
{"t":14525,"N":-4,"E":3,"Z":-11,"R":-3,"T":3},
{"t":14550,"N":11,"E":-10,"Z":18,"R":9,"T":-15},
{"t":14575,"N":-16,"E":16,"Z":-4,"R":-15,"T":12},
{"t":14600,"N":10,"E":-4,"Z":-27,"R":3,"T":-3},
{"t":14625,"N":-3,"E":8,"Z":12,"R":-11,"T":16},
{"t":14650,"N":16,"E":-16,"Z":-3,"R":13,"T":-13},
{"t":14675,"N":-7,"E":11,"Z":17,"R":-2,"T":4},
{"t":14700,"N":3,"E":-3,"Z":-12,"R":11,"T":-16},
{"t":14725,"N":-14,"E":17,"Z":4,"R":-15,"T":12},
{"t":14750,"N":13,"E":-13,"Z":-16,"R":4,"T":-3},
{"t":14775,"N":-10,"E":3,"Z":12,"R":-11,"T":11},
{"t":14800,"N":2,"E":-10,"Z":-3,"R":14,"T":-17},
{"t":14825,"N":-16,"E":16,"Z":16,"R":-3,"T":13},
{"t":14850,"N":11,"E":-12,"Z":-12,"R":11,"T":-4},
{"t":14875,"N":-3,"E":4,"Z":3,"R":-14,"T":9},
{"t":14900,"N":14,"E":-11,"Z":-17,"R":3,"T":-16},
{"t":14925,"N":-12,"E":17,"Z":9,"R":-11,"T":12},
{"t":14950,"N":4,"E":-3,"Z":-3,"R":13,"T":-3},
{"t":14975,"N":-8,"E":11,"Z":17,"R":-3,"T":15},
{"t":15000,"N":17,"E":-16,"Z":-11,"R":11,"T":-13},
{"t":15025,"N":-12,"E":4,"Z":4,"R":-15,"T":4},
{"t":15050,"N":3,"E":-11,"Z":-16,"R":5,"T":-11},
{"t":15075,"N":-14,"E":15,"Z":10,"R":-11,"T":17},
{"t":15100,"N":13,"E":-12,"Z":-4,"R":13,"T":-8},
{"t":15125,"N":-3,"E":3,"Z":16,"R":-3,"T":12},
{"t":15150,"N":9,"E":24,"Z":-13,"R":-22,"T":-16},
{"t":15175,"N":-16,"E":-12,"Z":3,"R":10,"T":4},
{"t":15200,"N":11,"E":4,"Z":-12,"R":-3,"T":-11},
{"t":15225,"N":-3,"E":-16,"Z":17,"R":14,"T":16},
{"t":15250,"N":15,"E":12,"Z":-3,"R":-10,"T":-3},
{"t":15275,"N":-11,"E":-3,"Z":13,"R":3,"T":11},
{"t":15300,"N":3,"E":9,"Z":-16,"R":-14,"T":-16},
{"t":15325,"N":-16,"E":-15,"Z":4,"R":8,"T":10},
{"t":15350,"N":12,"E":16,"Z":-13,"R":-3,"T":-3},
{"t":15375,"N":-3,"E":-3,"Z":16,"R":14,"T":16},
{"t":15400,"N":10,"E":11,"Z":-4,"R":-9,"T":-10},
{"t":15425,"N":-14,"E":-16,"Z":13,"R":3,"T":4},
{"t":15450,"N":16,"E":3,"Z":-16,"R":-15,"T":-15},
{"t":15475,"N":-4,"E":-11,"Z":3,"R":8,"T":12},
{"t":15500,"N":12,"E":16,"Z":-13,"R":-3,"T":-3},
{"t":15525,"N":-15,"E":-10,"Z":17,"R":13,"T":16},
{"t":15550,"N":4,"E":3,"Z":-12,"R":-9,"T":-10},
{"t":15575,"N":-12,"E":-15,"Z":4,"R":10,"T":4},
{"t":15600,"N":-24,"E":-22,"Z":-10,"R":19,"T":24},
{"t":15625,"N":11,"E":11,"Z":16,"R":-10,"T":-10},
{"t":15650,"N":-3,"E":-4,"Z":-11,"R":3,"T":13},
{"t":15675,"N":14,"E":15,"Z":12,"R":-14,"T":-3},
{"t":15700,"N":-11,"E":-10,"Z":-16,"R":10,"T":10},
{"t":15725,"N":3,"E":11,"Z":11,"R":-11,"T":-13},
{"t":15750,"N":-15,"E":-14,"Z":-4,"R":9,"T":8},
{"t":15775,"N":8,"E":9,"Z":10,"R":-13,"T":-3},
{"t":15800,"N":-12,"E":-4,"Z":4,"R":5,"T":9}
]},
"vconcat": [
{"width": 1200, "height": 118, "layer": [
  {"mark": {"type": "line", "color": "black", "strokeWidth": 2, "strokeJoin": "round"},
   "encoding": {"x": {"field": "t", "type": "quantitative", "scale": {"domain": [-790, 16600], "nice": false, "zero": false}, "axis": {"values": [0,2000,4000,6000,8000,10000,12000,14000,16000], "labels": false}},
                "y": {"field": "N", "type": "quantitative", "scale": {"domain": [-64, 54], "nice": false, "zero": false}, "axis": null}}},
  {"data": {"values": [{"p": 8160}, {"p": 8670}]}, "mark": {"type": "rule", "color": "#00BFBF", "strokeWidth": 2.5, "strokeDash": [8, 3.5]},
   "encoding": {"x": {"field": "p", "type": "quantitative"}}},
  {"data": {"values": [{"c": "N", "px": -615, "py": 37}]}, "mark": {"type": "text", "align": "left", "baseline": "alphabetic", "fontSize": 14, "color": "black", "font": "DejaVu Sans"},
   "encoding": {"x": {"field": "px", "type": "quantitative"}, "y": {"field": "py", "type": "quantitative"}, "text": {"field": "c"}}}
]},
{"width": 1200, "height": 118, "layer": [
  {"mark": {"type": "line", "color": "black", "strokeWidth": 2, "strokeJoin": "round"},
   "encoding": {"x": {"field": "t", "type": "quantitative", "scale": {"domain": [-790, 16600], "nice": false, "zero": false}, "axis": {"values": [0,2000,4000,6000,8000,10000,12000,14000,16000], "labels": false}},
                "y": {"field": "E", "type": "quantitative", "scale": {"domain": [-62, 57], "nice": false, "zero": false}, "axis": null}}},
  {"data": {"values": [{"p": 8160}, {"p": 8670}]}, "mark": {"type": "rule", "color": "#00BFBF", "strokeWidth": 2.5, "strokeDash": [8, 3.5]},
   "encoding": {"x": {"field": "p", "type": "quantitative"}}},
  {"data": {"values": [{"c": "E", "px": -615, "py": 40}]}, "mark": {"type": "text", "align": "left", "baseline": "alphabetic", "fontSize": 14, "color": "black", "font": "DejaVu Sans"},
   "encoding": {"x": {"field": "px", "type": "quantitative"}, "y": {"field": "py", "type": "quantitative"}, "text": {"field": "c"}}}
]},
{"width": 1200, "height": 118, "layer": [
  {"mark": {"type": "line", "color": "black", "strokeWidth": 2, "strokeJoin": "round"},
   "encoding": {"x": {"field": "t", "type": "quantitative", "scale": {"domain": [-790, 16600], "nice": false, "zero": false}, "axis": {"values": [0,2000,4000,6000,8000,10000,12000,14000,16000], "labels": false}},
                "y": {"field": "Z", "type": "quantitative", "scale": {"domain": [-55, 63], "nice": false, "zero": false}, "axis": null}}},
  {"data": {"values": [{"p": 8160}, {"p": 8670}]}, "mark": {"type": "rule", "color": "#00BFBF", "strokeWidth": 2.5, "strokeDash": [8, 3.5]},
   "encoding": {"x": {"field": "p", "type": "quantitative"}}},
  {"data": {"values": [{"c": "Z", "px": -615, "py": 46}]}, "mark": {"type": "text", "align": "left", "baseline": "alphabetic", "fontSize": 14, "color": "black", "font": "DejaVu Sans"},
   "encoding": {"x": {"field": "px", "type": "quantitative"}, "y": {"field": "py", "type": "quantitative"}, "text": {"field": "c"}}}
]},
{"width": 1200, "height": 118, "layer": [
  {"mark": {"type": "line", "color": "black", "strokeWidth": 2, "strokeJoin": "round"},
   "encoding": {"x": {"field": "t", "type": "quantitative", "scale": {"domain": [-790, 16600], "nice": false, "zero": false}, "axis": {"values": [0,2000,4000,6000,8000,10000,12000,14000,16000], "labels": false}},
                "y": {"field": "R", "type": "quantitative", "scale": {"domain": [-61, 58], "nice": false, "zero": false}, "axis": null}}},
  {"data": {"values": [{"p": 8160}, {"p": 8670}]}, "mark": {"type": "rule", "color": "#00BFBF", "strokeWidth": 2.5, "strokeDash": [8, 3.5]},
   "encoding": {"x": {"field": "p", "type": "quantitative"}}},
  {"data": {"values": [{"c": "R", "px": -615, "py": 41}]}, "mark": {"type": "text", "align": "left", "baseline": "alphabetic", "fontSize": 14, "color": "black", "font": "DejaVu Sans"},
   "encoding": {"x": {"field": "px", "type": "quantitative"}, "y": {"field": "py", "type": "quantitative"}, "text": {"field": "c"}}}
]},
{"width": 1200, "height": 118, "layer": [
  {"mark": {"type": "line", "color": "black", "strokeWidth": 2, "strokeJoin": "round"},
   "encoding": {"x": {"field": "t", "type": "quantitative", "scale": {"domain": [-790, 16600], "nice": false, "zero": false}, "axis": {"values": [0,2000,4000,6000,8000,10000,12000,14000,16000], "format": "d", "labels": true}},
                "y": {"field": "T", "type": "quantitative", "scale": {"domain": [-57, 61], "nice": false, "zero": false}, "axis": null}}},
  {"data": {"values": [{"p": 8160}, {"p": 8670}]}, "mark": {"type": "rule", "color": "#00BFBF", "strokeWidth": 2.5, "strokeDash": [8, 3.5]},
   "encoding": {"x": {"field": "p", "type": "quantitative"}}},
  {"data": {"values": [{"c": "T", "px": -615, "py": 44}]}, "mark": {"type": "text", "align": "left", "baseline": "alphabetic", "fontSize": 14, "color": "black", "font": "DejaVu Sans"},
   "encoding": {"x": {"field": "px", "type": "quantitative"}, "y": {"field": "py", "type": "quantitative"}, "text": {"field": "c"}}}
]}
]
}
